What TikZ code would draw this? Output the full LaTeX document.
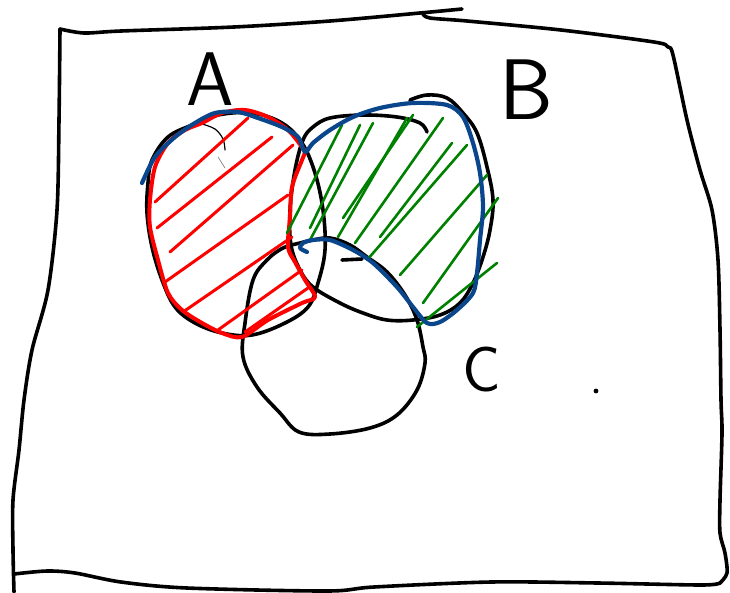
\documentclass[tikz,border=0pt]{standalone}
\usepackage{tikz}
\usetikzlibrary{positioning}
\definecolor{regioncolA}{RGB}{255,0,0}
\definecolor{regioncolB}{RGB}{0,128,0}
\definecolor{unioncol}{RGB}{10,70,140}
\tikzset{
  pen/.style={line width=3.6pt,line cap=round,line join=round,black},
  thinpen/.style={line width=1.2pt,line cap=round,black},
  hatchA/.style={line width=3pt,line cap=round,regioncolA},
  hatchB/.style={line width=2.6pt,line cap=round,regioncolB},
  outlineA/.style={line width=4pt,line cap=round,line join=round,regioncolA},
  outlineU/.style={line width=4.2pt,line cap=round,line join=round,unioncol},
  setlabel/.style={font=\sffamily\fontsize{76}{76}\selectfont,inner sep=0pt}
}

\begin{document}
\begin{tikzpicture}[x=1pt,y=-1pt]
  \useasboundingbox (0,0) rectangle (730,592);

  % frame
  \draw[pen] plot[smooth,tension=0.5] coordinates
    {(60,29) (84,33) (121,31) (234,27) (330,21) (420,13) (462,9)};
  \draw[pen] plot[smooth,tension=0.5] coordinates
    {(423,14) (430,18) (467,21) (561,30) (654,42) (668,47) (673,55)
     (687,120) (700,170) (712,210) (718,260) (720,330) (721,400)
     (722,433) (720,500) (720,533) (725,553) (727,573) (720,583)};
  \draw[pen] plot[smooth,tension=0.5] coordinates
    {(720,583) (701,585) (598,583) (491,582) (374,587) (327,591)
     (187,588) (121,582) (75,573) (47,571) (14,574)};
  \draw[pen] plot[smooth,tension=0.5] coordinates
    {(60,29) (59,120) (57,210) (48,290) (32,350) (24,400) (19,450)
     (13,500) (13,550) (14,592)};

  % circles
  \draw[pen] plot[smooth cycle,tension=0.6] coordinates
    {(148,183) (152,160) (168,137) (192,125) (218,115) (252,113)
     (282,123) (302,143) (315,173) (323,210) (325,250) (318,283)
     (308,307) (285,323) (252,335) (222,333) (195,323) (175,307)
     (162,280) (152,247) (147,213)};
  \draw[thinpen] plot[smooth,tension=0.6] coordinates
    {(202,124) (215,129) (223,139) (225,150)};
  \draw[thinpen,black!50,line width=0.7pt] (218,157) -- (225,168);
  \draw[pen] plot[smooth,tension=0.6] coordinates
    {(427,132) (420,123) (397,117) (363,115) (330,118) (313,127)
     (303,140) (295,170) (290,210) (291,245) (300,270) (313,287)
     (340,303) (363,313) (387,320) (413,320) (440,315) (460,303)
     (473,283) (483,257) (490,230) (493,200) (487,167) (477,133)
     (463,113) (447,98) (427,95) (410,100)};
  \draw[pen] plot[smooth cycle,tension=0.6] coordinates
    {(300,243) (313,240) (330,238) (350,245) (367,257) (387,272)
     (405,295) (417,320) (423,347) (425,363) (417,390) (397,415)
     (370,428) (330,434) (299,432) (280,413) (257,387) (243,357)
     (245,323) (253,280) (267,260) (283,248)};
  \draw[pen] (342,260) -- (362,259);

  % red region
  \foreach \xa/\ya/\xb/\yb in {155/202/248/118, 157/228/272/137,
      170/252/293/145, 165/282/288/195, 183/312/292/237,
      218/330/302/270, 245/332/308/288}
    \draw[hatchA] (\xa,\ya) -- (\xb,\yb);
  \draw[outlineA] plot[smooth cycle,tension=0.5] coordinates
    {(202,123) (222,113) (245,110) (268,117) (288,130) (302,147)
     (305,152) (302,160) (292,187) (290,217) (288,247) (295,262)
     (305,280) (315,297) (302,303) (268,320) (242,337) (222,333)
     (202,323) (182,310) (168,293) (158,260) (150,227) (150,200)
     (155,167) (168,143) (185,130)};

  % green region
  \foreach \xa/\ya/\xb/\yb in {287/233/342/125, 310/228/360/125,
      310/240/373/123, 338/237/407/118, 343/218/413/115,
      355/243/443/118, 380/237/452/143, 367/260/467/145,
      400/275/487/175, 423/303/498/198, 417/327/497/263}
    \draw[hatchB] (\xa,\ya) -- (\xb,\yb);

  % union outline
  \draw[outlineU] plot[smooth,tension=0.5] coordinates
    {(142,183) (155,157) (175,137) (195,123) (215,113) (238,112)
     (258,118) (282,127) (298,137) (305,152) (313,143) (330,130)
     (353,117) (380,108) (413,103) (447,105) (463,117) (473,143)
     (480,173) (483,207) (480,240) (477,273) (473,293) (457,310)
     (440,322) (427,323) (413,307) (397,287) (373,263) (353,250)
     (330,240) (313,240) (303,243) (300,248) (307,252)};

  % labels
  \node[setlabel] (labA) at (210,79) {A};
  \node[setlabel,font=\sffamily\fontsize{86}{86}\selectfont] (labB) at (526,90) {B};
  \node[setlabel,font=\sffamily\fontsize{64}{64}\selectfont] (labC) at (482,370) {C};
  \fill (596,391) circle (2.4pt) node (dot) {};
\end{tikzpicture}
\end{document}
